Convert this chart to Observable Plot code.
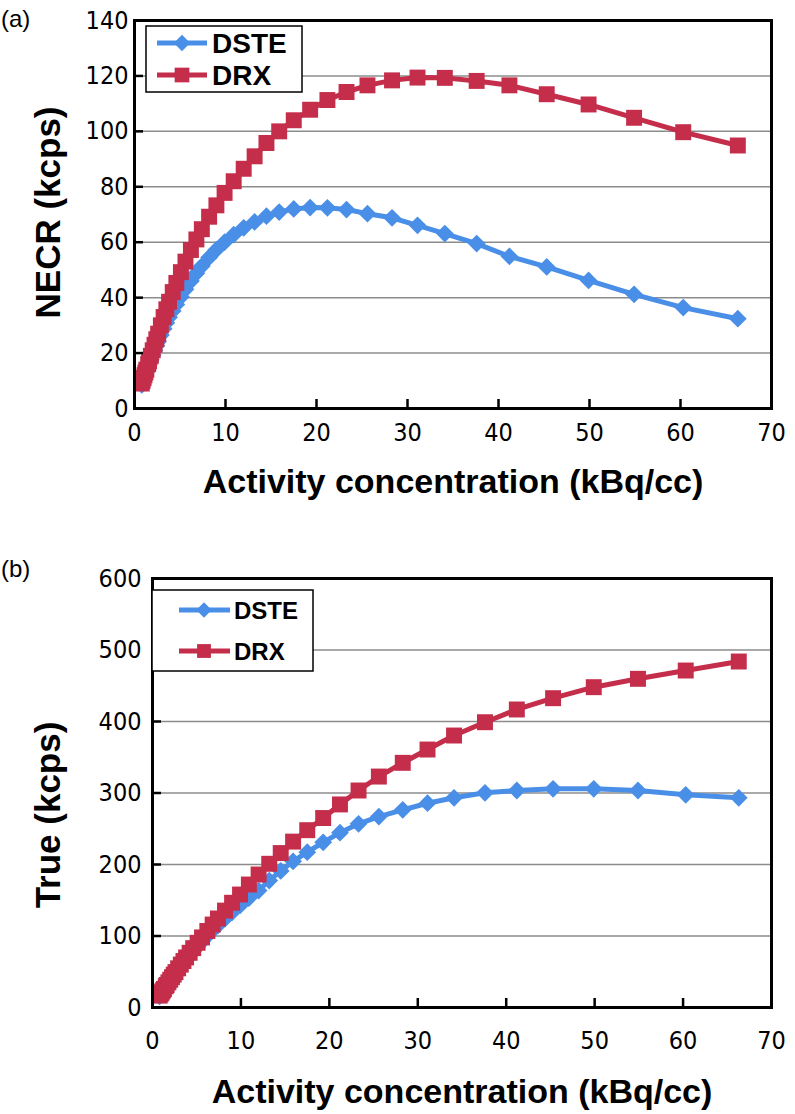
<!DOCTYPE html>
<html><head><meta charset="utf-8">
<script src="https://cdn.jsdelivr.net/npm/d3@7"></script>
<script src="https://cdn.jsdelivr.net/npm/@observablehq/plot@0.6"></script>
<style>
body{margin:0;background:#fff;}
#wrap{position:relative;width:795px;height:1114px;overflow:hidden;}
.panel{position:absolute;left:0;}
</style></head><body><div id="wrap"><div id="pa" class="panel" style="top:0"></div><div id="pb" class="panel" style="top:540px"></div></div>
<script>
// Activity concentration (kBq/cc), shared by both panels
const activity = [0.8, 0.9, 1.0, 1.1, 1.2, 1.3, 1.5, 1.6, 1.8, 2.0, 2.2, 2.4, 2.6, 2.9, 3.2, 3.5, 3.8, 4.2, 4.6, 5.1, 5.6, 6.2, 6.8, 7.4, 8.2, 9.0, 9.9, 10.9, 12.0, 13.2, 14.5, 15.9, 17.5, 19.3, 21.2, 23.3, 25.6, 28.3, 31.1, 34.1, 37.6, 41.2, 45.3, 49.9, 54.9, 60.3, 66.3];
// (a) NECR (kcps)
const necrDSTE = [8.5, 9.5, 10.5, 11.4, 12.3, 13.2, 15.0, 15.9, 17.6, 19.3, 21.0, 22.6, 24.2, 26.5, 28.8, 30.9, 32.9, 35.2, 37.5, 40.3, 43.0, 46.0, 48.8, 51.4, 54.5, 57.3, 60.0, 62.7, 65.2, 67.3, 69.4, 70.9, 72.0, 72.5, 72.4, 71.8, 70.3, 68.8, 66.1, 63.1, 59.5, 54.9, 51.1, 46.2, 41.2, 36.4, 32.4];
const necrDRX = [9.0, 10.0, 11.0, 12.0, 13.0, 14.0, 16.0, 17.0, 19.0, 21.0, 23.0, 25.0, 27.0, 30.0, 33.0, 35.8, 38.5, 42.0, 45.3, 49.2, 53.0, 57.2, 61.0, 64.7, 69.2, 73.3, 77.8, 82.0, 86.5, 91.0, 95.8, 100.0, 104.0, 107.8, 111.3, 114.2, 116.6, 118.4, 119.4, 119.3, 118.2, 116.6, 113.4, 109.7, 104.9, 99.7, 94.9];
// (b) True (kcps)
const trueDSTE = [15.5, 17.4, 19.3, 21.2, 23.0, 24.9, 28.5, 30.3, 33.8, 37.3, 40.8, 44.2, 47.6, 52.5, 57.3, 62.0, 66.6, 72.6, 78.4, 85.5, 92.3, 100.2, 107.8, 115.0, 124.3, 133.2, 142.8, 153.0, 163.6, 177.6, 191.0, 204.5, 217.2, 231.0, 244.5, 256.9, 267.0, 276.5, 285.7, 293.3, 300.3, 303.5, 305.9, 305.9, 303.5, 297.5, 293.3];
const trueDRX = [16.6, 18.5, 20.4, 22.3, 24.2, 26.0, 29.7, 31.5, 35.2, 38.8, 42.4, 46.0, 49.5, 54.8, 60.0, 65.0, 70.0, 76.5, 83.0, 90.5, 98.0, 107.0, 116.0, 124.5, 135.5, 146.5, 158.0, 172.0, 186.0, 201.0, 216.0, 232.0, 248.0, 265.0, 284.0, 303.5, 323.0, 342.2, 360.8, 380.4, 399.0, 416.8, 432.6, 448.0, 459.7, 471.3, 483.9];

const seriesNames = ["DSTE", "DRX"];
const seriesColors = ["#4A8FE7", "#C42E4B"];
const seriesSymbols = ["diamond2", "square"];
const xTicks = [0, 10, 20, 30, 40, 50, 60, 70];
const necrTicks = [0, 20, 40, 60, 80, 100, 120, 140];
const trueTicks = [0, 100, 200, 300, 400, 500, 600];
const xTitle = "Activity concentration (kBq/cc)";

const tickFont = "'Liberation Sans Narrow','Arial Narrow','DejaVu Sans Condensed',sans-serif";
const boldFont = "'Liberation Sans',Arial,Helvetica,sans-serif";
const markerR = [8, 9];
const d3Symbols = [d3.symbolDiamond2, d3.symbolSquare];

function makePanel(cfg) {
  const rows = seriesNames.flatMap((s, i) => activity.map((a, j) => ({activity: a, value: cfg.values[i][j], series: s})));
  const marks = [Plot.gridY(cfg.yTicks, {stroke: "#8c8c8c", strokeOpacity: 1, strokeWidth: 1.5})];
  seriesNames.forEach((s, i) => {
    const sub = rows.filter(d => d.series === s);
    marks.push(Plot.line(sub, {x: "activity", y: "value", stroke: "series", strokeWidth: 5, strokeLinejoin: "round"}));
    marks.push(Plot.dot(sub, {x: "activity", y: "value", fill: "series", symbol: "series", r: markerR[i], stroke: "none"}));
  });
  marks.push(Plot.frame({stroke: "black", strokeWidth: 3}));
  marks.push(Plot.axisX(xTicks, {tickSize: -9, tickPadding: cfg.xPad, strokeWidth: 2.5, fontSize: 25, fontFamily: tickFont, label: null}));
  marks.push(Plot.axisY(cfg.yTicks, {tickSize: -9, tickPadding: cfg.yPad, strokeWidth: 2.5, fontSize: 25, fontFamily: tickFont, label: null}));
  marks.push(Plot.text([xTitle], {text: d => d, frameAnchor: "bottom", textAnchor: "middle", dy: cfg.xTitleDy, fontSize: 34, fontWeight: "bold", fontFamily: boldFont}));
  marks.push(Plot.text([cfg.yTitle], {text: d => d, frameAnchor: "left", textAnchor: "middle", rotate: -90, dx: cfg.yTitleDx, dy: cfg.yTitleDy || 0, fontSize: 35, fontWeight: "bold", fontFamily: boldFont}));
  const svg = Plot.plot({
    width: 795, height: cfg.height,
    marginTop: cfg.mt, marginBottom: cfg.mb, marginLeft: cfg.ml, marginRight: cfg.mr,
    style: {color: "black", background: "white", overflow: "visible"},
    x: {domain: [0, 70]},
    y: {domain: cfg.yDomain},
    color: {domain: seriesNames, range: seriesColors},
    symbol: {domain: seriesNames, range: seriesSymbols},
    marks
  });
  const sel = d3.select(svg);
  // panel letter
  sel.append("text").attr("x", 1).attr("y", cfg.letterY).attr("text-anchor", "start").attr("font-family", boldFont).attr("font-size", 24).attr("fill", "black").text(cfg.letter);
  // legend
  const L = cfg.legend;
  const g = sel.append("g");
  g.append("rect").attr("x", L.x).attr("y", L.y).attr("width", L.w).attr("height", L.h).attr("fill", "white").attr("stroke", "black").attr("stroke-width", 1.5);
  seriesNames.forEach((s, i) => {
    const cy = L.rows[i];
    g.append("line").attr("x1", L.lx1).attr("x2", L.lx2).attr("y1", cy).attr("y2", cy).attr("stroke", seriesColors[i]).attr("stroke-width", 5);
    g.append("path").attr("d", d3.symbol(d3Symbols[i], Math.PI * markerR[i] * markerR[i] * L.ms)()).attr("transform", `translate(${L.mx},${cy})`).attr("fill", seriesColors[i]);
    g.append("text").attr("x", L.tx).attr("y", cy).attr("dy", "0.36em").attr("text-anchor", "start").attr("font-family", boldFont).attr("font-weight", "bold").attr("font-size", L.fs).attr("fill", "black").text(s);
  });
  return svg;
}

document.getElementById("pa").appendChild(makePanel({
  values: [necrDSTE, necrDRX], yTicks: necrTicks, yDomain: [0, 140], yTitle: "NECR (kcps)",
  height: 540, mt: 20, mb: 132, ml: 134, mr: 24,
  xPad: 24, yPad: 15, xTitleDy: 84, yTitleDx: -86, yTitleDy: -2,
  letter: "(a)", letterY: 27,
  legend: {x: 146, y: 26, w: 156, h: 66, rows: [43, 75], lx1: 157, lx2: 207, mx: 182, tx: 212, fs: 28, ms: 0.85}
}));
document.getElementById("pb").appendChild(makePanel({
  values: [trueDSTE, trueDRX], yTicks: trueTicks, yDomain: [0, 600], yTitle: "True (kcps)",
  height: 574, mt: 38, mb: 107, ml: 152, mr: 24,
  xPad: 33, yPad: 20, xTitleDy: 95, yTitleDx: -104, yTitleDy: 22,
  letter: "(b)", letterY: 37,
  legend: {x: 152, y: 50, w: 161, h: 81, rows: [70, 111], lx1: 179, lx2: 230, mx: 204, tx: 234, fs: 24, ms: 0.75}
}));
</script></body></html>
